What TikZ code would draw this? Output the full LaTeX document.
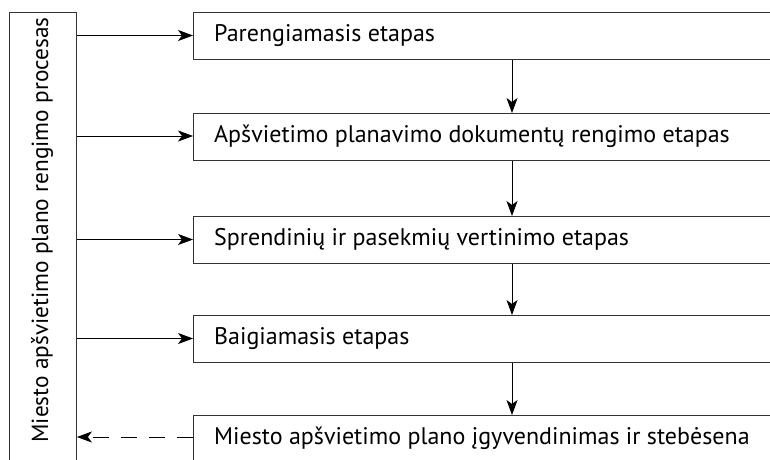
\documentclass[tikz,border=0pt]{standalone}
\usepackage{fontspec}
\setmainfont{PT Sans}
\usetikzlibrary{arrows.meta}
\begin{document}
\begin{tikzpicture}[x=1pt,y=-1pt,
  stagebox/.style={draw=black!80,line width=0.9pt,minimum width=640pt,minimum height=47pt,anchor=north west,inner sep=0pt},
  stagetext/.style={anchor=west,font=\fontsize{24}{26}\selectfont,inner sep=0pt},
  arr/.style={line width=0.8pt,-{Stealth[length=15pt,width=11pt,inset=4pt]}},
  darr/.style={line width=0.8pt,dash pattern=on 16pt off 12pt,-{Stealth[length=15pt,width=11pt,inset=4pt]}}]
\useasboundingbox (0,0) rectangle (770,459);
\clip (0,0) rectangle (770,459);
\node[draw=black!80,line width=0.9pt,anchor=north west,minimum width=67pt,minimum height=470pt,inner sep=0pt] (proc) at (9,12) {};
\node[rotate=90,font=\fontsize{23.3}{26}\selectfont] (proct) at (42,230) {Miesto apšvietimo plano rengimo procesas};
\node[stagebox] (s1) at (193,12) {};
\node[stagebox] (s2) at (193,113) {};
\node[stagebox] (s3) at (193,216) {};
\node[stagebox] (s4) at (193,315) {};
\node[stagebox] (s5) at (193,415) {};
\node[stagetext] (t1) at (214,35.5) {Parengiamasis etapas};
\node[stagetext] (t2) at (214,136.5) {Apšvietimo planavimo dokumentų rengimo etapas};
\node[stagetext] (t3) at (214,239.5) {Sprendinių ir pasekmių vertinimo etapas};
\node[stagetext] (t4) at (214,338.5) {Baigiamasis etapas};
\node[stagetext] (t5) at (214,438.5) {Miesto apšvietimo plano įgyvendinimas ir stebėsena};
\foreach \i/\y in {1/35.5,2/136,3/239.5,4/338.5}{
  \draw[arr] (proc.east |- 0,\y) -- (s\i.west |- 0,\y);
}
\draw[darr] (s5.west |- 0,437) -- (proc.east |- 0,437);
\coordinate (vx) at (512,0);
\draw[arr] (s1.south -| vx) -- (s2.north -| vx);
\draw[arr] (s2.south -| vx) -- (s3.north -| vx);
\draw[arr] (s3.south -| vx) -- (s4.north -| vx);
\draw[arr] (s4.south -| vx) -- (s5.north -| vx);
\end{tikzpicture}
\end{document}
